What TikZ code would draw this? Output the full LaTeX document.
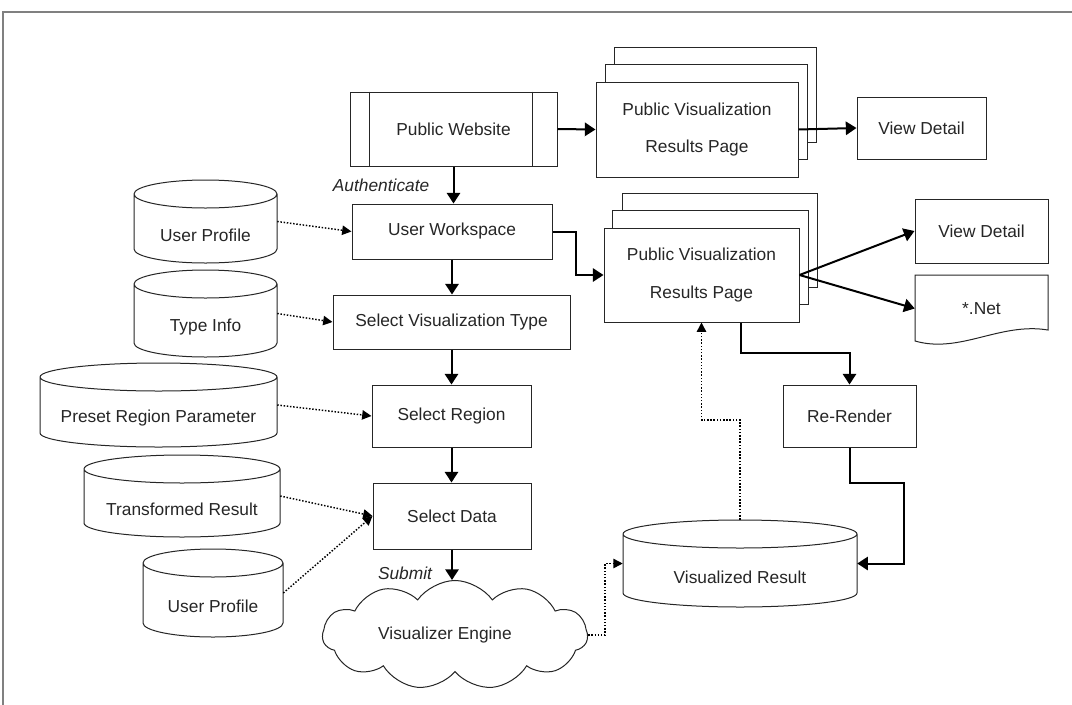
\documentclass[tikz,border=0pt]{standalone}
\usepackage{fontspec}
\setmainfont{Liberation Sans}
\usetikzlibrary{arrows.meta,calc,fit,shapes.symbols}

\tikzset{
  txt/.style={font=\fontsize{13}{15.6}\selectfont, text=black!85},
  twoline/.style={font=\fontsize{13}{28}\selectfont, align=center},
  wh/.style 2 args={minimum width=#1*0.75pt, minimum height=#2*0.75pt},
  boxline/.style={draw=black!85, line width=0.75pt},
  box/.style={boxline, txt, fill=white, inner sep=0pt, rectangle},
  flow/.style={line width=1.5pt, -{Triangle[length=8pt,width=10pt]}},
  feed/.style={line width=1.1pt, dash pattern=on 1.1pt off 1.3pt, -{Triangle[length=7pt,width=7pt]}},
  tag/.style={font=\fontsize{13}{15.6}\selectfont\itshape, text=black!85},
}

% database drum: name, top-left corner, bottom-right corner, text
\newcommand\drum[4]{%
  \draw[boxline, fill=white] let \p1=#2, \p2=#3, \n1={(\x2-\x1)/2}, \n2={10.5pt} in
    (\x1,\y1-\n2) -- (\x1,\y2+\n2)
      arc[start angle=180, end angle=360, x radius=\n1, y radius=\n2]
      -- (\x2,\y1-\n2)
      arc[start angle=0, end angle=180, x radius=\n1, y radius=\n2] -- cycle
    (\x1,\y1-\n2) arc[start angle=180, end angle=360, x radius=\n1, y radius=\n2];
  \node[fit={#2 #3}, inner sep=0pt, label={[txt, yshift=-10pt]center:#4}] (#1) {};
}

\begin{document}
\begin{tikzpicture}[x=0.75pt, y=-0.75pt]
\useasboundingbox (0,0) rectangle (1072,704);

% page frame
\draw[black!50, line width=1.5pt] (3,720) -- (3,12) -- (1090,12);

% public website
\node[box, wh={207}{74}] (pw) at (453.5,129) {Public Website};
\draw[boxline] ($(pw.north west)+(20,0)$) -- ($(pw.south west)+(20,0)$)
               ($(pw.north east)+(-25,0)$) -- ($(pw.south east)+(-25,0)$);

% first stack of result pages
\node[box, wh={202}{95}] (res1c) at (715,94.5) {};
\node[box, wh={202}{95}] (res1b) at (706,111.5) {};
\node[box, twoline, wh={202}{95}] (res1) at (697,129.5) {Public Visualization\\Results Page};
\node[box, wh={129}{62}] (vd1) at (921.5,128) {View Detail};

% main column
\node[box, wh={200}{55}] (uw) at (452,231.5) {User Workspace};
\node[box, wh={237}{54}] (svt) at (451.5,322) {Select Visualization Type};
\node[box, wh={159}{62}] (sr) at (451.5,416) {Select Region};
\node[box, wh={158}{66}] (sd) at (452,516) {Select Data};
\node[cloud, boxline, txt, fill=white, cloud puffs=11, cloud puff arc=110, aspect=2.7,
      wh={265}{96}, inner sep=0pt] (ve) at (455,635) {Visualizer Engine\hspace*{15pt}};

% second stack of result pages
\node[box, wh={195}{94}] (res2c) at (719.5,240) {};
\node[box, wh={196}{94}] (res2b) at (710,257) {};
\node[box, twoline, wh={195}{94}] (res2) at (701.5,275) {Public Visualization\\Results Page};
\node[box, wh={133}{64}] (vd2) at (981.5,231) {View Detail};
\draw[boxline] (915,275) -- (1048,275) -- (1048,330)
  .. controls (1000,322) and (960,354) .. (915,341) -- cycle;
\node[txt, wh={133}{67}, inner sep=0pt] (net) at (981.5,308.5) {*.Net};
\node[box, wh={133}{62}] (rr) at (849.5,416) {Re-Render};

% data stores
\drum{up1}{(134,180)}{(277,263)}{User Profile}
\drum{ti}{(134,270)}{(277,357)}{Type Info}
\drum{prp}{(40,363)}{(277,447)}{Preset Region Parameter}
\drum{tr}{(84,455)}{(280,537)}{Transformed Result}
\drum{up2}{(143,549)}{(283,637)}{User Profile}
\drum{vr}{(623,520)}{(857,607)}{Visualized Result}

% bend points
\coordinate (k3) at (576,232);
\coordinate (k4) at (740,420);
\coordinate (k5) at (741,353);
\coordinate (k6) at (904,483);

% connectors
\draw[flow] (pw.south) -- (pw.south |- uw.north);
\node[tag, anchor=east] (auth) at (434,185) {Authenticate};
\draw[flow] (pw.east) -- (res1.west);
\draw[flow] (res1.east) -- (vd1.west);
\draw[feed] (up1.east) -- (uw.west);
\draw[flow] (uw.east) -- (uw.east -| k3) |- (res2.west);
\draw[flow] (uw.south) -- (uw.south |- svt.north);
\draw[feed] (ti.east) -- (svt.west);
\draw[flow] (svt.south) -- (svt.south |- sr.north);
\draw[feed] (prp.east) -- (sr.west);
\draw[flow] (sr.south) -- (sr.south |- sd.north);
\draw[feed] (tr.east) -- (sd.west);
\draw[feed] (up2.east) -- (sd.west);
\draw[flow] (sd.south) -- (sd.south |- ve.north);
\node[tag] (sub) at (405,573) {Submit};
\draw[feed] (ve.east) -- ++(17,0) |- (vr.west);
\draw[feed] (vr.north) -- (k4) -| (res2.south);
\draw[flow] (k5 |- res2.south) -- (k5) -| (rr.north);
\draw[flow] (rr.south) |- (k6) |- (vr.east);
\draw[flow] (res2.east) -- (vd2.west);
\draw[flow] (res2.east) -- (net.west);
\end{tikzpicture}
\end{document}
